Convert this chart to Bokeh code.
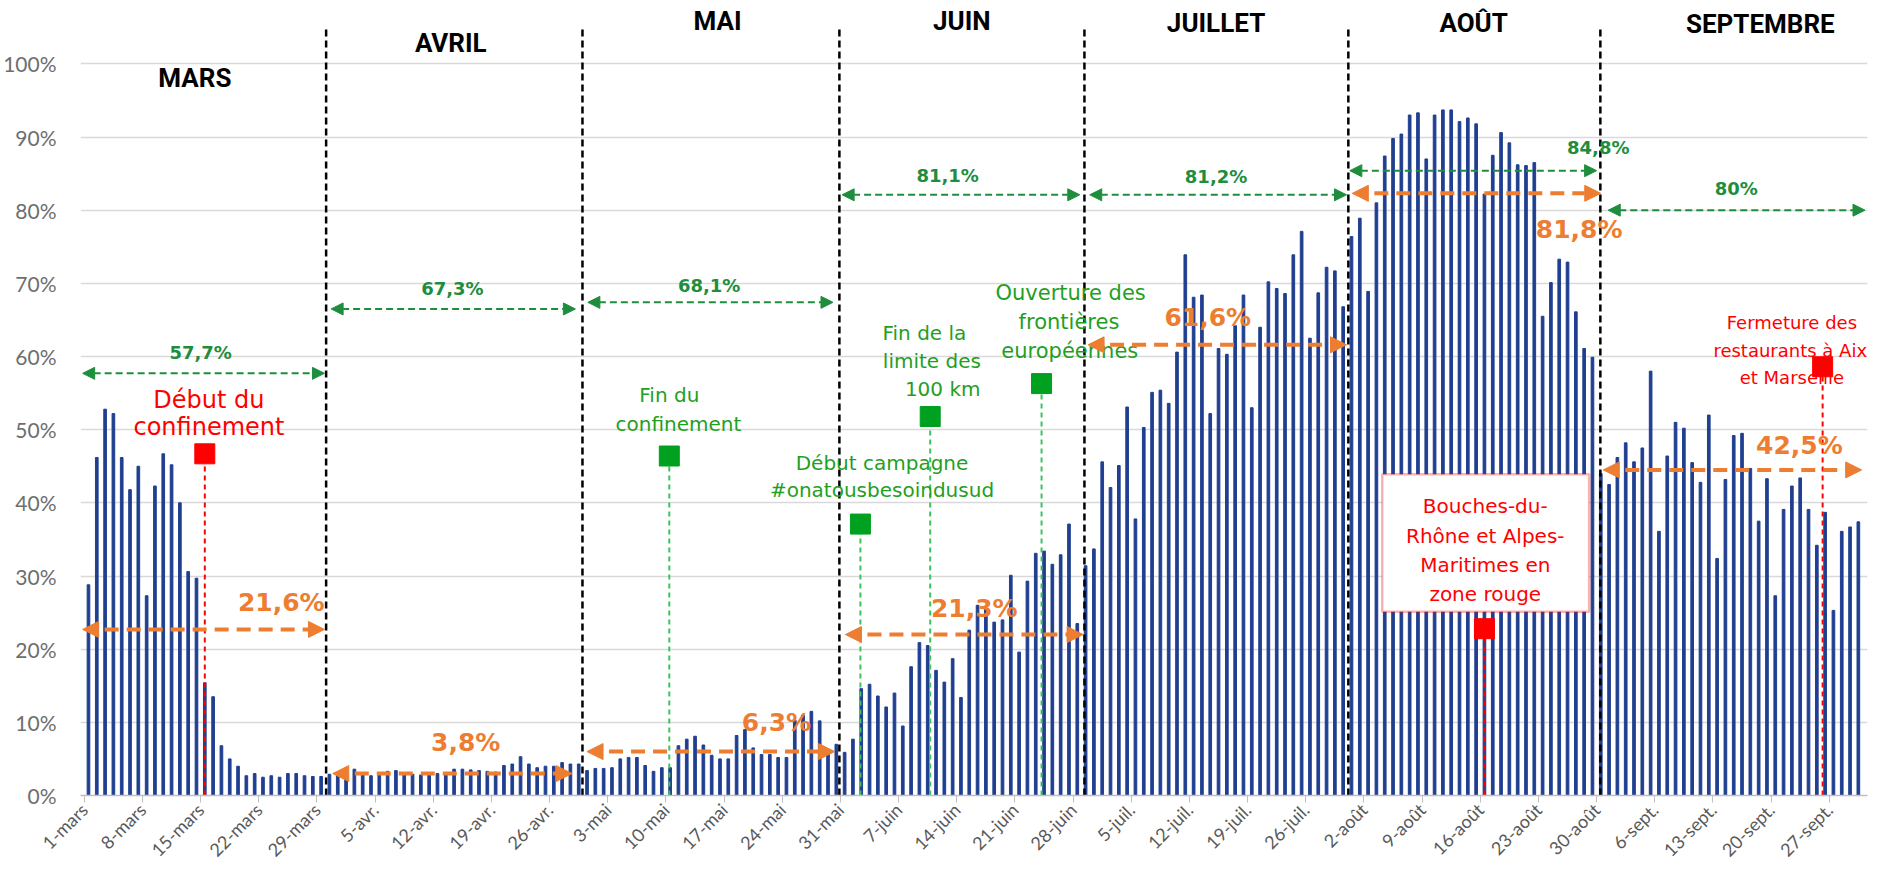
import math
from bokeh.plotting import figure
from bokeh.models import (FixedTicker, Range1d, Arrow, NormalHead, Label, BoxAnnotation)
from bokeh.embed import file_html
from bokeh.resources import INLINE

# ---- data: daily hotel occupancy rate (%) 2020 ----
mars = [28.8, 46.2, 52.8, 52.2, 46.2, 41.8, 45.0, 27.3, 42.3, 46.7, 45.2, 40.0, 30.6, 29.7, 15.4, 13.5,
        6.8, 5.0, 4.0, 2.7, 3.0, 2.5, 2.7, 2.5, 3.0, 3.0, 2.7, 2.6, 2.6, 2.9, 2.9]
avril = [2.6, 3.6, 2.9, 2.7, 2.9, 3.3, 3.4, 3.1, 2.9, 2.8, 3.0, 3.0, 3.0, 3.6, 3.6, 3.5, 3.4, 3.3, 3.2, 4.1,
         4.3, 5.3, 4.3, 3.8, 4.0, 4.0, 4.5, 4.3, 4.3, 3.4]
mai = [3.7, 3.7, 3.8, 5.0, 5.2, 5.2, 4.1, 3.3, 3.8, 3.8, 6.8, 7.7, 8.1, 6.9, 5.5, 5.0, 5.0, 8.2, 9.0, 6.5,
       5.6, 5.6, 5.2, 5.2, 10.3, 11.0, 11.5, 10.2, 5.9, 7.0, 5.9]
juin = [7.7, 14.6, 15.2, 13.6, 12.1, 14.0, 9.5, 17.6, 20.9, 20.5, 17.1, 15.5, 18.7, 13.4, 22.6, 26.0, 25.4,
        23.7, 24.0, 30.1, 19.6, 29.3, 33.1, 33.4, 31.6, 32.9, 37.1, 23.5, 31.4, 33.7]
juillet = [45.6, 42.1, 45.1, 53.1, 37.8, 50.3, 55.1, 55.4, 53.6, 60.6, 73.9, 68.1, 68.4, 52.2, 61.1, 60.3,
           64.2, 68.4, 53.0, 64.0, 70.2, 69.3, 68.6, 73.9, 77.1, 62.5, 68.7, 72.2, 71.7, 66.8, 76.4]
aout = [78.9, 68.9, 81.0, 87.4, 89.8, 90.4, 93.0, 93.3, 87.0, 93.0, 93.7, 93.7, 92.1, 92.6, 91.8, 82.2,
        87.5, 90.6, 89.2, 86.2, 86.1, 86.5, 65.5, 70.1, 73.3, 72.9, 66.1, 61.1, 59.9, 44.0, 42.5]
septembre = [46.2, 48.2, 45.6, 47.5, 58.0, 36.1, 46.4, 51.0, 50.2, 45.5, 42.8, 52.0, 32.4, 43.2, 49.2, 49.5,
             44.7, 37.5, 43.3, 27.3, 39.1, 42.3, 43.4, 39.1, 34.2, 38.7, 25.3, 36.1, 36.7, 37.4]

tick_labels = ["1-mars", "8-mars", "15-mars", "22-mars", "29-mars", "5-avr.", "12-avr.", "19-avr.",
               "26-avr.", "3-mai", "10-mai", "17-mai", "24-mai", "31-mai", "7-juin", "14-juin", "21-juin",
               "28-juin", "5-juil.", "12-juil.", "19-juil.", "26-juil.", "2-août", "9-août", "16-août",
               "23-août", "30-août", "6-sept.", "13-sept.", "20-sept.", "27-sept."]
y_ticks = [0, 10, 20, 30, 40, 50, 60, 70, 80, 90, 100]

month_names = ["MARS", "AVRIL", "MAI", "JUIN", "JUILLET", "AOÛT", "SEPTEMBRE"]
green_labels = ["57,7%", "67,3%", "68,1%", "81,1%", "81,2%", "84,8%", "80%"]
orange_labels = ["21,6%", "3,8%", "6,3%", "21,3%", "61,6%", "81,8%", "42,5%"]

occupancy = mars + avril + mai + juin + juillet + aout + septembre
days = list(range(1, len(occupancy) + 1))
tick_days = [1 + 7 * i for i in range(len(tick_labels))]

GREEN_DARK = "#1E8E3E"
GREEN = "#1FA01F"
GREEN_LINE = "#3CC35C"
ORANGE = "#ED7D31"
RED = "#FF0000"
BAR = "#203F90"
GRAY = "#595959"

p = figure(frame_width=1787, frame_height=788,
           x_range=Range1d(0.04, 215.1), y_range=Range1d(0, 107.7),
           output_backend="svg", toolbar_location=None,
           min_border_left=72, min_border_right=22, min_border_top=7, min_border_bottom=4)
p.outline_line_color = None
p.background_fill_color = "white"

# axes
p.yaxis.ticker = FixedTicker(ticks=y_ticks)
p.yaxis.major_label_overrides = {t: f"{t}%" for t in y_ticks}
p.yaxis.axis_line_color = None
p.yaxis.major_tick_line_color = None
p.yaxis.minor_tick_line_color = None
p.yaxis.major_label_text_font = "Lato"
p.yaxis.major_label_text_font_size = "21px"
p.yaxis.major_label_text_color = "#6E6E6E"
p.yaxis.major_label_standoff = 18

xt = [d - 0.5 for d in tick_days]
p.xaxis.ticker = FixedTicker(ticks=xt)
p.xaxis.major_label_overrides = {t: lab for t, lab in zip(xt, tick_labels)}
p.xaxis.major_label_orientation = math.pi / 4
p.xaxis.axis_line_color = "#BFBFBF"
p.xaxis.axis_line_width = 1.5
p.xaxis.major_tick_line_color = "#BFBFBF"
p.xaxis.major_tick_out = 7
p.xaxis.major_tick_in = 0
p.xaxis.minor_tick_line_color = None
p.xaxis.major_label_text_font = "Lato"
p.xaxis.major_label_text_font_size = "18px"
p.xaxis.major_label_text_color = GRAY
p.xaxis.major_label_standoff = 4

p.xgrid.grid_line_color = None
p.ygrid.grid_line_color = "#D9D9D9"
p.ygrid.grid_line_width = 1.5

# bars
p.vbar(x=days, top=occupancy, width=0.32, color=BAR)

# month dividers
div_x = [29.6, 60.45, 91.37, 120.86, 152.62, 182.95]
p.segment(x0=div_x, y0=[0] * 6, x1=div_x, y1=[105.0] * 6, line_color="black",
          line_width=2.5, line_dash="7 4")

# month names
month_pos = [(13.8, 98.0), (44.6, 102.8), (76.7, 105.9), (106.1, 105.9), (136.7, 105.6),
             (167.7, 105.6), (202.2, 105.5)]
for name, (mx, my) in zip(month_names, month_pos):
    p.add_layout(Label(x=mx, y=my, text=name, text_align="center", text_baseline="middle",
                       text_font="Roboto", text_font_style="bold", text_font_size="26px",
                       text_color="black"))

# event lines and markers
red_events = [(15.0, 46.7), (169.0, 22.8), (209.7, 58.6)]
green_events = [(70.9, 46.4), (93.9, 37.1), (102.3, 51.8), (115.7, 56.3)]
p.segment(x0=[e[0] for e in red_events], y0=[0] * 3, x1=[e[0] for e in red_events],
          y1=[e[1] for e in red_events], line_color=RED, line_width=2, line_dash="5 4")
p.segment(x0=[e[0] for e in green_events], y0=[0] * 4, x1=[e[0] for e in green_events],
          y1=[e[1] for e in green_events], line_color=GREEN_LINE, line_width=2, line_dash="5 4")
p.scatter(x=[e[0] for e in red_events], y=[e[1] for e in red_events], marker="square",
          size=20, color=RED)
p.scatter(x=[e[0] for e in green_events], y=[e[1] for e in green_events], marker="square",
          size=20, color="#00A020")


def txt(x, y, s, color, size, style="normal", font="DejaVu Sans"):
    p.add_layout(Label(x=x, y=y, text=s, text_align="center", text_baseline="middle",
                       text_font=font, text_font_style=style, text_font_size=size,
                       text_color=color))


# red texts
txt(15.5, 54.1, "Début du", RED, "24px")
txt(15.5, 50.4, "confinement", RED, "24px")
txt(206.0, 64.6, "Fermeture des", RED, "18px")
txt(205.8, 60.8, "restaurants à Aix", RED, "18px")
txt(206.0, 57.1, "et Marseille", RED, "18px")

p.add_layout(BoxAnnotation(left=156.7, right=181.6, bottom=25.1, top=43.9, fill_color="white",
                           fill_alpha=1, line_color=RED, line_width=2.5))
for yy, s in zip([39.6, 35.5, 31.5, 27.6],
                 ["Bouches-du-", "Rhône et Alpes-", "Maritimes en", "zone rouge"]):
    txt(169.1, yy, s, RED, "20px")

# green texts
txt(70.9, 54.8, "Fin du", GREEN, "20px")
txt(72.0, 50.8, "confinement", GREEN, "20px")
txt(96.5, 45.5, "Début campagne", GREEN, "20px")
txt(96.5, 41.7, "#onatousbesoindusud", GREEN, "20px")
txt(101.6, 63.2, "Fin de la", GREEN, "20px")
txt(102.5, 59.4, "limite des", GREEN, "20px")
txt(103.8, 55.5, "100 km", GREEN, "20px")
txt(119.2, 68.7, "Ouverture des", GREEN, "21px")
txt(119.0, 64.7, "frontières", GREEN, "21px")
txt(119.1, 60.8, "européennes", GREEN, "21px")

# green period arrows (average of 2019)
green_arrows = [(0.3, 29.4, 57.7), (30.2, 59.6, 66.5), (61.1, 90.6, 67.4), (91.7, 120.3, 82.1),
                (121.5, 152.4, 82.1), (152.8, 182.5, 85.4), (183.9, 214.8, 80.0)]
green_lab_pos = [(14.5, 60.5), (44.8, 69.3), (75.7, 69.7), (104.4, 84.7), (136.7, 84.6),
                 (182.7, 88.5), (199.3, 82.9)]
for (x0, x1, yy), lab, (lx, ly) in zip(green_arrows, green_labels, green_lab_pos):
    p.add_layout(Arrow(x_start=x0, y_start=yy, x_end=x1, y_end=yy, line_color=GREEN_DARK,
                       line_width=2, line_dash="7 4",
                       start=NormalHead(size=12, fill_color=GREEN_DARK, line_color=GREEN_DARK),
                       end=NormalHead(size=12, fill_color=GREEN_DARK, line_color=GREEN_DARK)))
    txt(lx, ly, lab, GREEN_DARK, "18px", "bold")

# orange period arrows (2020)
orange_arrows = [(0.3, 29.4, 22.7), (30.4, 59.2, 3.0), (61.0, 90.8, 6.0), (92.1, 120.7, 22.0),
                 (121.3, 152.4, 61.6), (153.1, 183.0, 82.3), (183.3, 214.4, 44.5)]
orange_lab_pos = [(24.2, 26.4), (46.4, 7.2), (83.8, 10.0), (107.6, 25.6), (135.7, 65.3),
                  (180.4, 77.3), (206.9, 47.8)]
for (x0, x1, yy), lab, (lx, ly) in zip(orange_arrows, orange_labels, orange_lab_pos):
    p.add_layout(Arrow(x_start=x0, y_start=yy, x_end=x1, y_end=yy, line_color=ORANGE,
                       line_width=4, line_dash="14 8",
                       start=NormalHead(size=16, fill_color=ORANGE, line_color=ORANGE),
                       end=NormalHead(size=16, fill_color=ORANGE, line_color=ORANGE)))
    txt(lx, ly, lab, ORANGE, "25px", "bold")

open("out.html", "w").write(file_html(p, INLINE))
